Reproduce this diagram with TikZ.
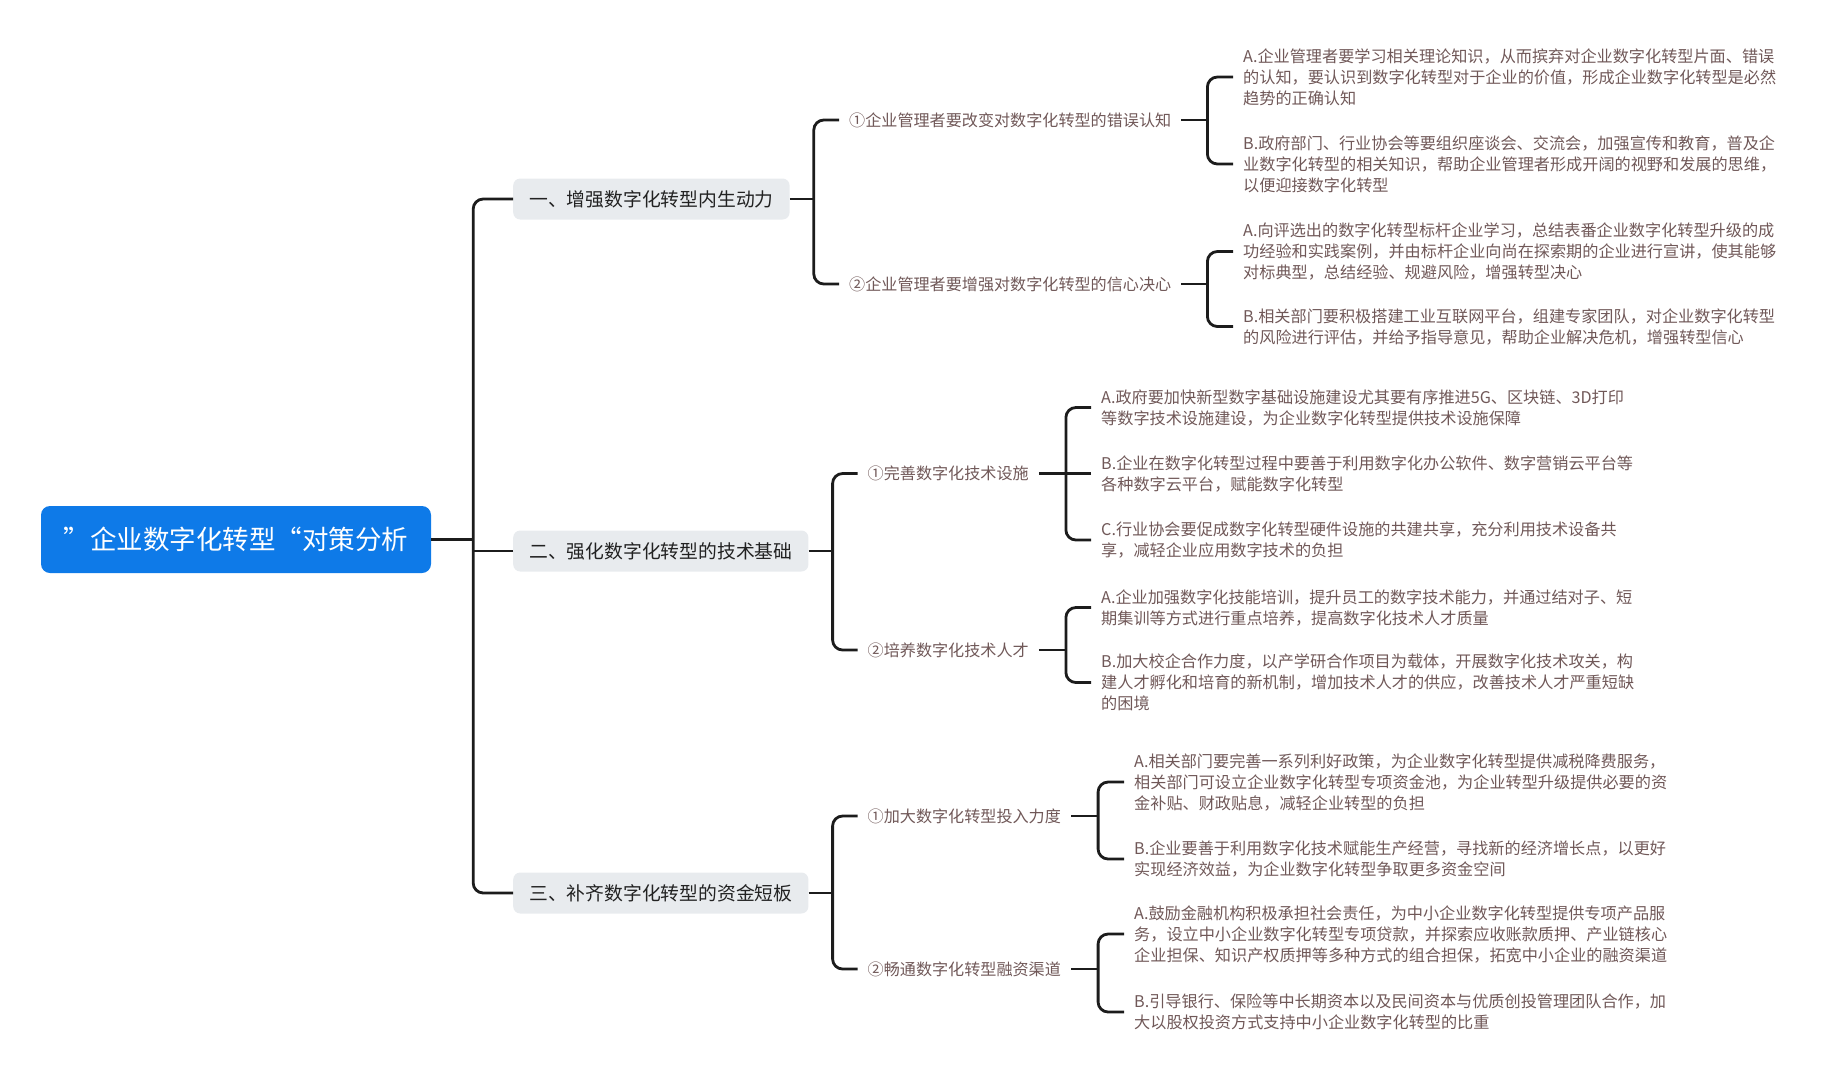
\documentclass[tikz,border=0pt]{standalone}
\usepackage{fontspec}
\setmainfont{Noto Sans CJK SC}
\usetikzlibrary{calc}
\definecolor{RootClr}{RGB}{14,122,232}
\definecolor{TopicClr}{RGB}{232,235,238}
\definecolor{TopicTxt}{RGB}{34,34,34}
\definecolor{TextClr}{RGB}{112,88,88}
\definecolor{LinkClr}{RGB}{28,28,28}

\begin{document}
\begin{tikzpicture}[x=1pt,y=-1pt,
  root/.style={fill=RootClr,text=white,rounded corners=9pt,minimum width=390pt,minimum height=67pt,font=\fontsize{26.5}{31}\selectfont},
  topic/.style={fill=TopicClr,text=TopicTxt,rounded corners=7pt,anchor=west,minimum height=41pt,inner xsep=16pt,font=\fontsize{18.8}{22}\selectfont},
  branch/.style={text=TextClr,anchor=west,inner xsep=10pt,font=\fontsize{16.1}{21}\selectfont},
  leaf/.style={text=TextClr,anchor=west,align=left,inner xsep=10pt,font=\fontsize{16.15}{21}\selectfont},
  link/.style={draw=LinkClr,line width=2.8pt,rounded corners=10pt}]
\useasboundingbox (0,0) rectangle (1833,1080);

\node[root] (root) at (236,539.5) {”企业数字化转型“对策分析};

\node[topic] (t1) at (513,199) {一、增强数字化转型内生动力};
\node[topic] (t2) at (513,551) {二、强化数字化转型的技术基础};
\node[topic] (t3) at (513,893) {三、补齐数字化转型的资金短板};

\node[branch] (s11) at (839,120) {①企业管理者要改变对数字化转型的错误认知};
\node[branch] (s12) at (839,284) {②企业管理者要增强对数字化转型的信心决心};
\node[branch] (s21) at (857.5,473.5) {①完善数字化技术设施};
\node[branch] (s22) at (857.5,650) {②培养数字化技术人才};
\node[branch] (s31) at (857.5,816) {①加大数字化转型投入力度};
\node[branch] (s32) at (857.5,969) {②畅通数字化转型融资渠道};

\node[leaf] (l11a) at (1233,77) {A.企业管理者要学习相关理论知识，从而摈弃对企业数字化转型片面、错误\\的认知，要认识到数字化转型对于企业的价值，形成企业数字化转型是必然\\趋势的正确认知};
\node[leaf] (l11b) at (1233,164) {B.政府部门、行业协会等要组织座谈会、交流会，加强宣传和教育，普及企\\业数字化转型的相关知识，帮助企业管理者形成开阔的视野和发展的思维，\\以便迎接数字化转型};
\node[leaf] (l12a) at (1233,251.5) {A.向评选出的数字化转型标杆企业学习，总结表番企业数字化转型升级的成\\功经验和实践案例，并由标杆企业向尚在探索期的企业进行宣讲，使其能够\\对标典型，总结经验、规避风险，增强转型决心};
\node[leaf] (l12b) at (1233,326.5) {B.相关部门要积极搭建工业互联网平台，组建专家团队，对企业数字化转型\\的风险进行评估，并给予指导意见，帮助企业解决危机，增强转型信心};

\node[leaf] (l21a) at (1091,407.5) {A.政府要加快新型数字基础设施建设尤其要有序推进5G、区块链、3D打印\\等数字技术设施建设，为企业数字化转型提供技术设施保障};
\node[leaf] (l21b) at (1091,473.5) {B.企业在数字化转型过程中要善于利用数字化办公软件、数字营销云平台等\\各种数字云平台，赋能数字化转型};
\node[leaf] (l21c) at (1091,540) {C.行业协会要促成数字化转型硬件设施的共建共享，充分利用技术设备共\\享，减轻企业应用数字技术的负担};
\node[leaf] (l22a) at (1091,607.5) {A.企业加强数字化技能培训，提升员工的数字技术能力，并通过结对子、短\\期集训等方式进行重点培养，提高数字化技术人才质量};
\node[leaf] (l22b) at (1091,682.5) {B.加大校企合作力度，以产学研合作项目为载体，开展数字化技术攻关，构\\建人才孵化和培育的新机制，增加技术人才的供应，改善技术人才严重短缺\\的困境};

\node[leaf] (l31a) at (1124,782) {A.相关部门要完善一系列利好政策，为企业数字化转型提供减税降费服务，\\相关部门可设立企业数字化转型专项资金池，为企业转型升级提供必要的资\\金补贴、财政贴息，减轻企业转型的负担};
\node[leaf] (l31b) at (1124,859) {B.企业要善于利用数字化技术赋能生产经营，寻找新的经济增长点，以更好\\实现经济效益，为企业数字化转型争取更多资金空间};
\node[leaf] (l32a) at (1124,934) {A.鼓励金融机构积极承担社会责任，为中小企业数字化转型提供专项产品服\\务，设立中小企业数字化转型专项贷款，并探索应收账款质押、产业链核心\\企业担保、知识产权质押等多种方式的组合担保，拓宽中小企业的融资渠道};
\node[leaf] (l32b) at (1124,1012) {B.引导银行、保险等中长期资本以及民间资本与优质创投管理团队合作，加\\大以股权投资方式支持中小企业数字化转型的比重};

\coordinate (trunk) at ($(root.east)+(42,0)$);
\coordinate (j1) at ($(t1.east)+(24,0)$);
\coordinate (j2) at ($(t2.east)+(24,0)$);
\coordinate (j3) at ($(t3.east)+(24,0)$);
\coordinate (k11) at ($(s11.east)+(26,0)$);
\coordinate (k12) at ($(s12.east)+(26,0)$);
\coordinate (k21) at ($(s21.east)+(27,0)$);
\coordinate (k22) at ($(s22.east)+(27,0)$);
\coordinate (k31) at ($(s31.east)+(27,0)$);
\coordinate (k32) at ($(s32.east)+(27,0)$);

\draw[link] (root.east) -- (trunk);
\draw[link] (t1.west) -| (trunk) |- (t3.west);
\draw[link] (t2.west) -- (t2.west -| trunk);

\draw[link] (t1.east) -- (j1);
\draw[link] (s11.west) -| (j1) |- (s12.west);
\draw[link] (t2.east) -- (j2);
\draw[link] (s21.west) -| (j2) |- (s22.west);
\draw[link] (t3.east) -- (j3);
\draw[link] (s31.west) -| (j3) |- (s32.west);

\draw[link] (s11.east) -- (k11);
\draw[link] (l11a.west) -| (k11) |- (l11b.west);
\draw[link] (s12.east) -- (k12);
\draw[link] (l12a.west) -| (k12) |- (l12b.west);
\draw[link] (s21.east) -- (k21);
\draw[link] (l21a.west) -| (k21) |- (l21c.west);
\draw[link] (l21b.west) -- (l21b.west -| k21);
\draw[link] (s22.east) -- (k22);
\draw[link] (l22a.west) -| (k22) |- (l22b.west);
\draw[link] (s31.east) -- (k31);
\draw[link] (l31a.west) -| (k31) |- (l31b.west);
\draw[link] (s32.east) -- (k32);
\draw[link] (l32a.west) -| (k32) |- (l32b.west);

\end{tikzpicture}
\end{document}
